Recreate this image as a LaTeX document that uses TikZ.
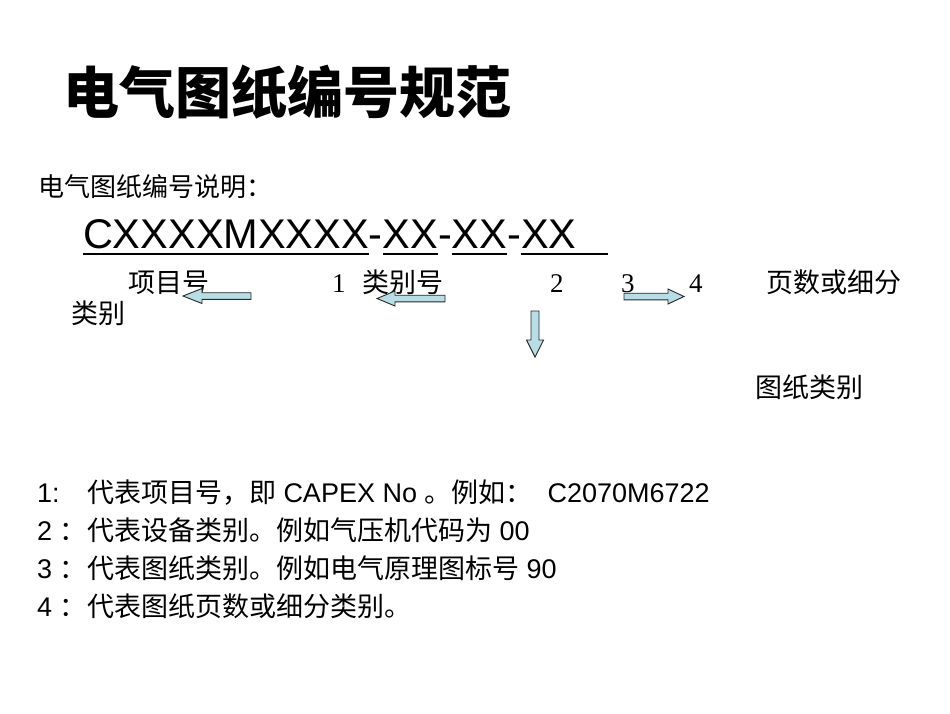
\documentclass[tikz,border=0pt]{standalone}
\usepackage{fontspec}
\setmainfont{Liberation Sans}
\newfontfamily\cjk{Noto Sans CJK SC}
\newfontfamily\numserif{Liberation Serif}
\definecolor{arrowfill}{RGB}{183,222,230}
\definecolor{arrowline}{RGB}{40,40,40}
\tikzset{
  txt/.style={anchor=base west, inner sep=0pt, outer sep=0pt, text=black},
  sz27/.style={font=\fontsize{27pt}{30pt}\selectfont},
  cjk27/.style={font=\fontsize{27pt}{30pt}\selectfont\cjk},
  num27/.style={font=\fontsize{27pt}{30pt}\selectfont\numserif},
  blockarrow/.style={fill=arrowfill, draw=arrowline, line width=0.9pt, line join=miter},
  uline/.style={line width=2.6pt}
}
\begin{document}
\begin{tikzpicture}[x=1pt,y=-1pt]
\path[use as bounding box, fill=white] (0,0) rectangle (950,713);

% title
\node[txt, font=\fontsize{56pt}{60pt}\selectfont\cjk\bfseries] (title) at (63,113) {电气图纸编号规范};

% subtitle
\node[txt, font=\fontsize{26pt}{30pt}\selectfont\cjk] (sub) at (38,196) {电气图纸编号说明：};

% code
\tikzset{codef/.style={txt, font=\fontsize{41.5pt}{45pt}\selectfont}}
\node[codef] (c1) at (83,248) {CXXXXMXXXX};
\node[codef] (h1) at (c1.base east) {-};
\node[codef] (c2) at (h1.base east) {XX};
\node[codef] (h2) at (c2.base east) {-};
\node[codef] (c3) at (h2.base east) {XX};
\node[codef] (h3) at (c3.base east) {-};
\node[codef] (c4) at (h3.base east) {XX};
\coordinate (uend) at (608,254);
\draw[uline] ([yshift=-6pt]c1.base west) -- ([yshift=-6pt]c1.base east);
\draw[uline] ([yshift=-6pt]c2.base west) -- ([yshift=-6pt]c2.base east);
\draw[uline] ([yshift=-6pt]c3.base west) -- ([yshift=-6pt]c3.base east);
\draw[uline] ([yshift=-6pt]c4.base west) -- (uend);

% second row
\node[txt, cjk27] (xm) at (128,292) {项目号};
\node[txt, num27] (n1) at (332,292) {1};
\node[txt, cjk27] (lb) at (362,292) {类别号};
\node[txt, num27] (n2) at (550,292) {2};
\node[txt, num27] (n3) at (621,292) {3};
\node[txt, num27] (n4) at (689,292) {4};
\node[txt, cjk27] (ys) at (766,292) {页数或细分};
\node[txt, cjk27] (lb2) at (71,323) {类别};
\node[txt, cjk27] (tz) at (755,397) {图纸类别};

% block arrows
\draw[blockarrow] (183,296) -- (202,288.5) -- (202,292.7) -- (251,292.7) -- (251,299.3) -- (202,299.3) -- (202,303.5) -- cycle;
\draw[blockarrow] (377,298.5) -- (395,291) -- (395,295.2) -- (445,295.2) -- (445,301.8) -- (395,301.8) -- (395,306) -- cycle;
\draw[blockarrow] (684,296.5) -- (668,289) -- (668,293.2) -- (624,293.2) -- (624,299.8) -- (668,299.8) -- (668,304) -- cycle;
\draw[blockarrow] (535,357) -- (526.5,340) -- (531,340) -- (531,311) -- (539,311) -- (539,340) -- (543.5,340) -- cycle;

% explanations
\node[txt, sz27] (l1) at (37,502) {1:};
\node[txt, sz27] (t1) at (87,502) {{\cjk 代表项目号，即} CAPEX No {\cjk 。例如：}\ \ C2070M6722};
\node[txt, sz27] (l2) at (37,540) {2 {\cjk ：}};
\node[txt, sz27] (t2) at (87,540) {{\cjk 代表设备类别。例如气压机代码为} 00};
\node[txt, sz27] (l3) at (37,578) {3 {\cjk ：}};
\node[txt, sz27] (t3) at (87,578) {{\cjk 代表图纸类别。例如电气原理图标号} 90};
\node[txt, sz27] (l4) at (37,616) {4 {\cjk ：}};
\node[txt, sz27] (t4) at (87,616) {{\cjk 代表图纸页数或细分类别。}};
\end{tikzpicture}
\end{document}
